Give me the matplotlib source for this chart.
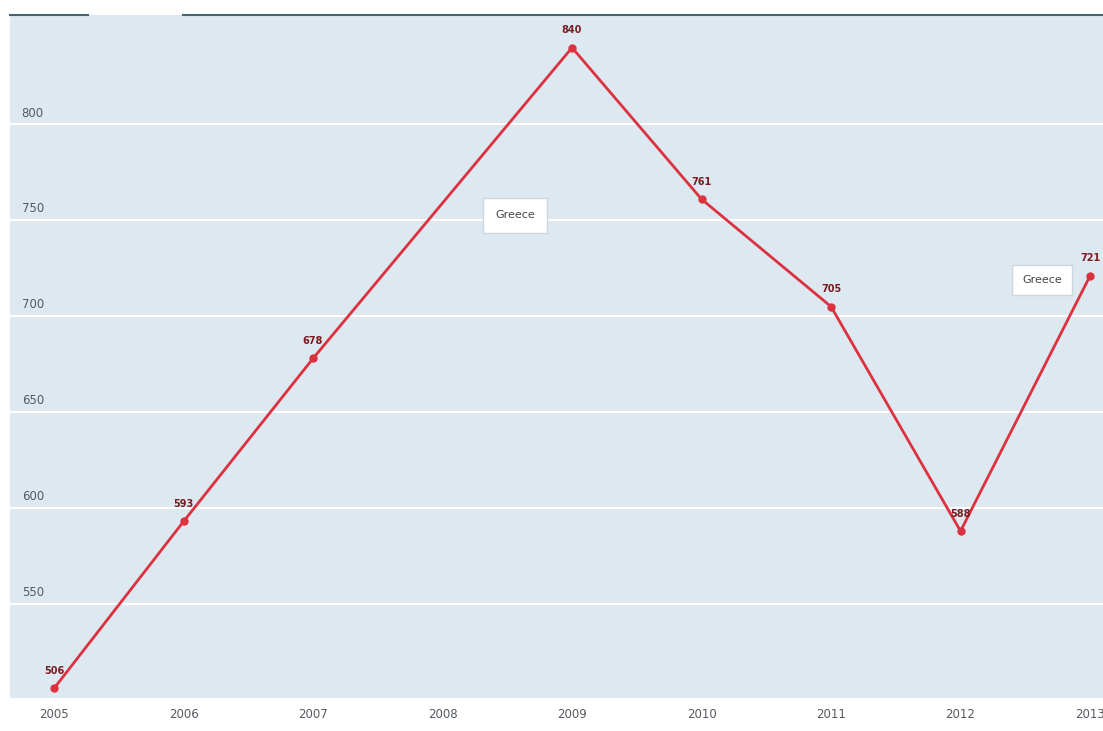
import matplotlib.pyplot as plt
from matplotlib.lines import Line2D

# data (2008 has no reported value; the line just joins 2007 and 2009)
years = [2005, 2006, 2007, 2009, 2010, 2011, 2012, 2013]
values = [506, 593, 678, 840, 761, 705, 588, 721]
xtick_years = list(range(2005, 2014))
ytick_values = [550, 600, 650, 700, 750, 800]
series_name = "Greece"

bg = "#dde8f1"
red = "#dc3240"
label_red = "#7a1c20"
tick_grey = "#555a60"

fig = plt.figure(figsize=(11.03, 7.31), dpi=100)
ax = fig.add_axes([10 / 1103, 33 / 731, 1093 / 1103, 683 / 731])
ax.set_facecolor(bg)
ax.set_xlim(2004.66, 2013.1)
ax.set_ylim(501, 857)

for s in ax.spines.values():
    s.set_visible(False)

for v in ytick_values:
    ax.axhline(v, color="white", lw=1.4, zorder=1)
    ax.text(2004.75, v + 2.5, str(v), color=tick_grey, fontsize=8.5,
            ha="left", va="bottom", zorder=2)

ax.set_yticks([])
ax.set_xticks(xtick_years)
ax.set_xticklabels([str(y) for y in xtick_years], color=tick_grey, fontsize=8.5)
ax.tick_params(axis="x", length=0, pad=7)

ax.plot(years, values, color=red, lw=2.0, zorder=3)
ax.plot(years, values, "o", color=red, ms=5, zorder=4)

for x, y in zip(years, values):
    ax.annotate(str(y), (x, y), xytext=(0, 9), textcoords="offset points",
                ha="center", va="bottom", fontsize=7, fontweight="bold",
                color=label_red, zorder=5)

# tooltip boxes
ax.text(2008.56, 752.5, series_name,
        ha="center", va="center", fontsize=8, color="#444",
        bbox=dict(boxstyle="square,pad=1.1", fc="white", ec="#cfd6dc", lw=1),
        zorder=6)
ax.text(2012.63, 719, series_name,
        ha="center", va="center", fontsize=8, color="#444",
        bbox=dict(boxstyle="square,pad=0.9", fc="white", ec="#cfd6dc", lw=1),
        zorder=6)

# top border line with a gap
fig.add_artist(Line2D([10 / 1103, 88 / 1103], [716 / 731, 716 / 731],
                      color="#46646f", lw=1.5))
fig.add_artist(Line2D([183 / 1103, 1.0], [716 / 731, 716 / 731],
                      color="#46646f", lw=1.5))

fig.savefig("out.png", dpi=100)
